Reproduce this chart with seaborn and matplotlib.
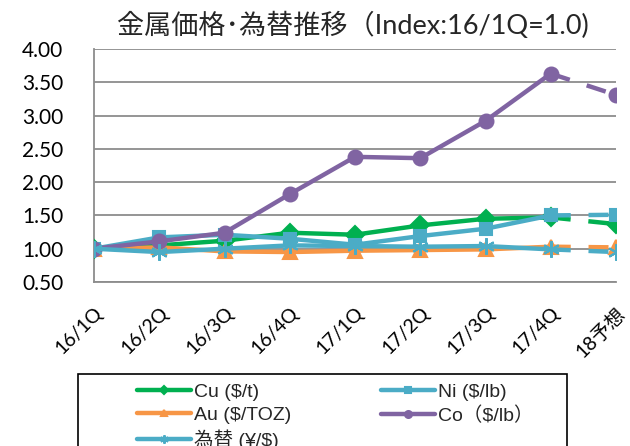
import numpy as np
import pandas as pd
import matplotlib
matplotlib.use('Agg')
import matplotlib.pyplot as plt
import seaborn as sns

# Data (index, 16/1Q = 1.0)
quarters = ['16/1Q', '16/2Q', '16/3Q', '16/4Q', '17/1Q', '17/2Q', '17/3Q', '17/4Q', '18予想']
cu = [1.00, 1.05, 1.12, 1.24, 1.21, 1.35, 1.45, 1.47, 1.37]
ni = [1.00, 1.17, 1.21, 1.15, 1.06, 1.19, 1.30, 1.50, 1.51]
au = [1.00, 1.02, 0.96, 0.95, 0.97, 0.98, 0.99, 1.03, 1.02]
co = [1.00, 1.11, 1.24, 1.82, 2.38, 2.36, 2.92, 3.63, 3.31]
fx = [1.00, 0.95, 1.00, 1.05, 1.04, 1.03, 1.04, 0.99, 0.95]

series = [
    ('Cu ($/t)', cu, '#00B050', 'D', 9),
    ('Ni ($/lb)', ni, '#4BACC6', 's', 9),
    ('Au ($/TOZ)', au, '#F79646', '^', 10),
    ('Co（$/lb）', co, '#8064A2', 'o', 10),
    ('為替 (¥/$)', fx, '#4BACC6', (6, 2, 0), 12),
]

sns.set_style('white')
plt.rcParams['font.family'] = ['Lato', 'Noto Sans CJK JP', 'DejaVu Sans']

fig = plt.figure(figsize=(6.3, 4.46), dpi=100)
ax = fig.add_axes([94 / 630, 1 - 282 / 446, (616 - 94) / 630, (282 - 49) / 446])

x = np.arange(len(quarters))
for i, (name, vals, color, mk, ms) in enumerate(series):
    df = pd.DataFrame({'x': x, 'y': vals})
    z = 3 + i
    # actual quarters: solid line
    sns.lineplot(data=df.iloc[:8], x='x', y='y', ax=ax, color=color, lw=3.2,
                 marker=mk, markersize=ms, markeredgecolor=color, markeredgewidth=1.5,
                 sort=False, errorbar=None, label=name, zorder=z)
    # forecast: dashed
    sns.lineplot(data=df.iloc[7:], x='x', y='y', ax=ax, color=color, lw=3.2,
                 linestyle=(0, (4.5, 4.0)), marker=mk, markersize=ms, markevery=[1],
                 markeredgecolor=color, markeredgewidth=1.5,
                 sort=False, errorbar=None, label='_nolegend_', zorder=z)

yt = np.arange(0.5, 4.01, 0.5)
ax.set_xlim(0, 8)
ax.set_ylim(0.5, 4.0)
ax.set_yticks(yt)
ax.set_yticklabels([f'{v:.2f}' for v in yt], fontsize=15)
ax.set_xticks(x)
ax.set_xticklabels(quarters, rotation=45, ha='right', rotation_mode='anchor', fontsize=14)
ax.set_xlabel('')
ax.set_ylabel('')
ax.grid(axis='y', color='#8c8c8c', lw=1.3)
ax.set_axisbelow(True)
for s in ['top', 'right']:
    ax.spines[s].set_visible(False)
for s in ['left', 'bottom']:
    ax.spines[s].set_color('#8c8c8c')
    ax.spines[s].set_linewidth(1.3)
ax.tick_params(axis='both', direction='out', length=6, width=1.3, color='#8c8c8c', labelcolor='black')
ax.tick_params(axis='y', pad=16)
ax.tick_params(axis='x', pad=10)

fig.text(353 / 630, 1 - 25 / 446, '金属価格･為替推移（Index:16/1Q=1.0)', fontsize=19.5,
         ha='center', va='center')

handles, labels = ax.get_legend_handles_labels()
ax.get_legend().remove()
order = [0, 2, 4, 1, 3]
fig.legend([handles[k] for k in order], [labels[k] for k in order],
           loc='upper left', bbox_to_anchor=(119 / 630, 1 - 366 / 446),
           ncol=2, frameon=False, handlelength=2.8, handletextpad=0.15,
           columnspacing=4.6, labelspacing=0.28, markerscale=0.5,
           prop={'family': ['Liberation Sans', 'Noto Sans CJK JP'], 'size': 14})
fig.add_artist(plt.Rectangle((78 / 630, -0.1), (567 - 78) / 630, 0.1 + 1 - 374 / 446,
                             transform=fig.transFigure, fill=False, edgecolor='black', lw=1.2))

fig.savefig('out.png', dpi=100)
